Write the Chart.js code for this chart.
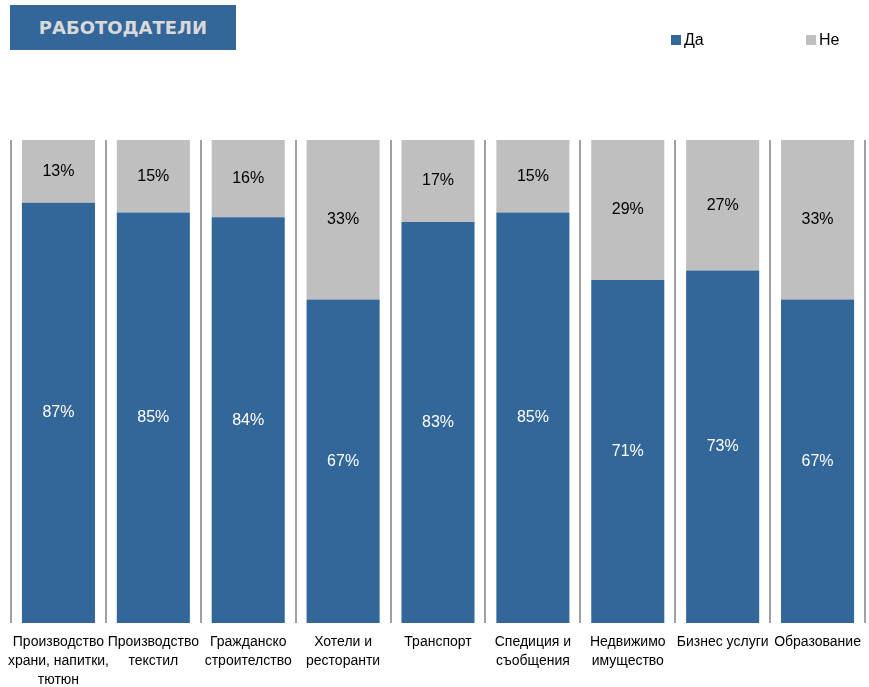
<!DOCTYPE html>
<html>
<head>
<meta charset="utf-8">
<script src="https://cdn.jsdelivr.net/npm/chart.js@4"></script>
<style>
  body { margin: 0; background: #fff; }
  #wrap { position: relative; width: 869px; height: 687px; }
  #title {
    position: absolute; left: 10px; top: 5px; width: 226px; height: 45px;
    background: #336699; color: #d9d9d9;
    font: bold 18px "DejaVu Sans", sans-serif;
    line-height: 45px; text-align: center;
  }
  .leg { position: absolute; top: 31px; font: 16px "Liberation Sans", sans-serif; color: #000; }
  .leg span { display: inline-block; width: 10px; height: 10px; margin-right: 3px; }
  canvas { position: absolute; left: 0; top: 0; }
</style>
</head>
<body>
<div id="wrap">
  <canvas id="chart" width="869" height="687"></canvas>
  <div id="title">РАБОТОДАТЕЛИ</div>
  <div class="leg" style="left:671px"><span style="background:#336699"></span>Да</div>
  <div class="leg" style="left:806px"><span style="background:#bfbfbf"></span>Не</div>
</div>
<script>
// sectors (multi-line labels)
const categories = [
  ["Производство", "храни, напитки,", "тютюн"],
  ["Производство", "текстил"],
  ["Гражданско", "строителство"],
  ["Хотели и", "ресторанти"],
  ["Транспорт"],
  ["Спедиция и", "съобщения"],
  ["Недвижимо", "имущество"],
  ["Бизнес услуги"],
  ["Образование"]
];
const yesValues = [87, 85, 84, 67, 83, 85, 71, 73, 67];
const noValues  = [13, 15, 16, 33, 17, 15, 29, 27, 33];

const FONT = "'Liberation Sans', Arial, sans-serif";

// draws the % in the middle of each segment
const segmentLabels = {
  id: "segmentLabels",
  afterDatasetsDraw(chart) {
    const ctx = chart.ctx;
    ctx.save();
    ctx.font = "16px " + FONT;
    ctx.textAlign = "center";
    ctx.textBaseline = "middle";
    chart.data.datasets.forEach((ds, i) => {
      chart.getDatasetMeta(i).data.forEach((bar, j) => {
        const mid = (bar.y + bar.base) / 2;
        ctx.fillStyle = i === 0 ? "#ffffff" : "#000000";
        ctx.fillText(ds.data[j] + "%", bar.x, mid);
      });
    });
    ctx.restore();
  }
};

new Chart(document.getElementById("chart"), {
  type: "bar",
  data: {
    labels: categories,
    datasets: [
      { label: "Да", data: yesValues, backgroundColor: "#336699", barPercentage: 0.77, categoryPercentage: 1 },
      { label: "Не", data: noValues, backgroundColor: "#bfbfbf", barPercentage: 0.77, categoryPercentage: 1 }
    ]
  },
  options: {
    responsive: false,
    animation: false,
    layout: { padding: { left: 11, right: 4, top: 140, bottom: 0 } },
    plugins: { legend: { display: false }, tooltip: { enabled: false } },
    scales: {
      x: {
        stacked: true,
        offset: true,
        afterFit: s => { s.height = 64; s.paddingLeft = 0; s.paddingRight = 0; },
        border: { display: false },
        grid: { offset: true, color: "#a0a0a0", lineWidth: 2, drawTicks: false },
        ticks: { color: "#000", padding: 10, maxRotation: 0, autoSkip: false, font: { family: FONT, size: 14, lineHeight: 1.35 } }
      },
      y: { stacked: true, display: false, min: 0, max: 100 }
    }
  },
  plugins: [segmentLabels]
});
</script>
</body>
</html>
